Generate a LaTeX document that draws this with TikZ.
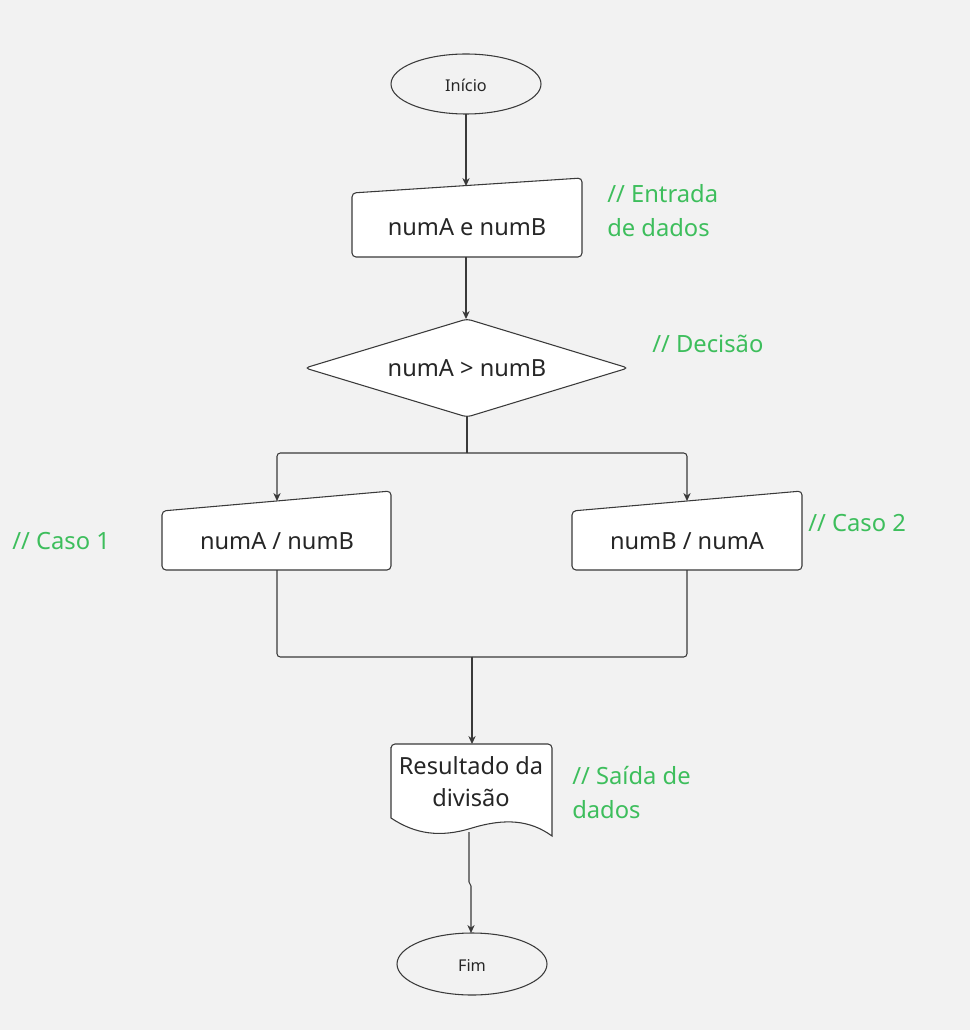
\documentclass[tikz,border=0pt]{standalone}
\usepackage{fontspec}
\setmainfont{Noto Sans}
\usetikzlibrary{arrows.meta}
\definecolor{bg}{HTML}{F2F2F2}
\definecolor{ln}{HTML}{3A3A3A}
\definecolor{cmt}{HTML}{3DBE5C}
\tikzset{
  shp/.style={draw=ln, line width=0.8pt, fill=white, rounded corners=3pt},
  term/.style={draw=ln, line width=0.8pt},
  conn/.style={draw=ln, line width=0.8pt, rounded corners=2.5pt},
  arr/.style={conn, -{Stealth[length=6pt,width=5.5pt]}},
  lbl/.style={inner sep=0pt, text=black!85, font=\fontsize{17.7}{24}\selectfont, align=center},
  small/.style={inner sep=0pt, text=black!85, font=\fontsize{12.2}{14}\selectfont},
  comment/.style={inner sep=0pt, text=cmt, anchor=west, align=left, font=\fontsize{17.8}{25.5}\selectfont},
}
\begin{document}
\begin{tikzpicture}[x=0.75pt,y=-0.75pt]
\useasboundingbox (0,0) rectangle (970,1030);
\fill[bg] (0,0) rectangle (970,1030);

% start ellipse
\draw[term] (466,84) ellipse [x radius=75, y radius=30];
\node[small] (start) at (466,85) {Início};
\coordinate (startb) at (466,114);

% input box
\path[shp] (352,193) -- (582,178) -- (582,257) -- (352,257) -- cycle;
\node[lbl] (in) at (467,227) {numA e numB};
\coordinate (int) at (466,186);
\coordinate (inb) at (466,257);

% diamond
\path[shp] (305,368) -- (467,319) -- (628,368) -- (467,417) -- cycle;
\node[lbl] (dec) at (467,368) {numA > numB};
\coordinate (dect) at (466,319);
\coordinate (decb) at (467,417);

% left case
\path[shp] (162,511) -- (391,491) -- (391,570) -- (162,570) -- cycle;
\node[lbl] (c1) at (277,541) {numA / numB};
\coordinate (c1t) at (277,501);
\coordinate (c1b) at (277,570);

% right case
\path[shp] (572,511) -- (802,491) -- (802,570) -- (572,570) -- cycle;
\node[lbl] (c2) at (687,541) {numB / numA};
\coordinate (c2t) at (687,501);
\coordinate (c2b) at (687,570);

% document
\path[draw=ln, line width=0.8pt, fill=white]
  (391,818) -- (391,747) [rounded corners=3pt] -- (391,744) -- (552,744) [sharp corners] -- (552,836)
  .. controls (530,820) and (505,818) .. (472,828)
  .. controls (440,838) and (415,834) .. (391,818) -- cycle;
\node[lbl] (out) at (471,782) {Resultado da\\divisão};
\coordinate (outt) at (472,744);
\coordinate (outb) at (469,832);

% end ellipse
\draw[term] (472,964) ellipse [x radius=75, y radius=31];
\node[small] (end) at (472,965) {Fim};
\coordinate (endt) at (471,933);

% connectors
\draw[arr] (startb) -- (int);
\draw[arr] (inb) -- (dect);
\coordinate (split) at (467,453);
\coordinate (merge) at (472,657);
\draw[conn] (decb) -- (split);
\draw[arr] (split) -| (c1t);
\draw[arr] (split) -| (c2t);
\draw[conn] (c1b) |- (merge);
\draw[conn] (c2b) |- (merge);
\draw[arr] (merge) -- (outt);
\coordinate (j1) at (469,882);
\coordinate (j2) at (471,886);
\draw[draw=ln, line width=0.8pt, -{Stealth[length=6pt,width=5.5pt]}] (outb) -- (j1) -- (j2) -- (endt);

% comments
\node[comment] (k1) at (607,211) {// Entrada\\de dados};
\node[comment] (k2) at (652,344) {// Decisão};
\node[comment] (k3) at (12,541) {// Caso 1};
\node[comment] (k4) at (808,523) {// Caso 2};
\node[comment] (k5) at (572,793) {// Saída de\\dados};
\end{tikzpicture}
\end{document}
